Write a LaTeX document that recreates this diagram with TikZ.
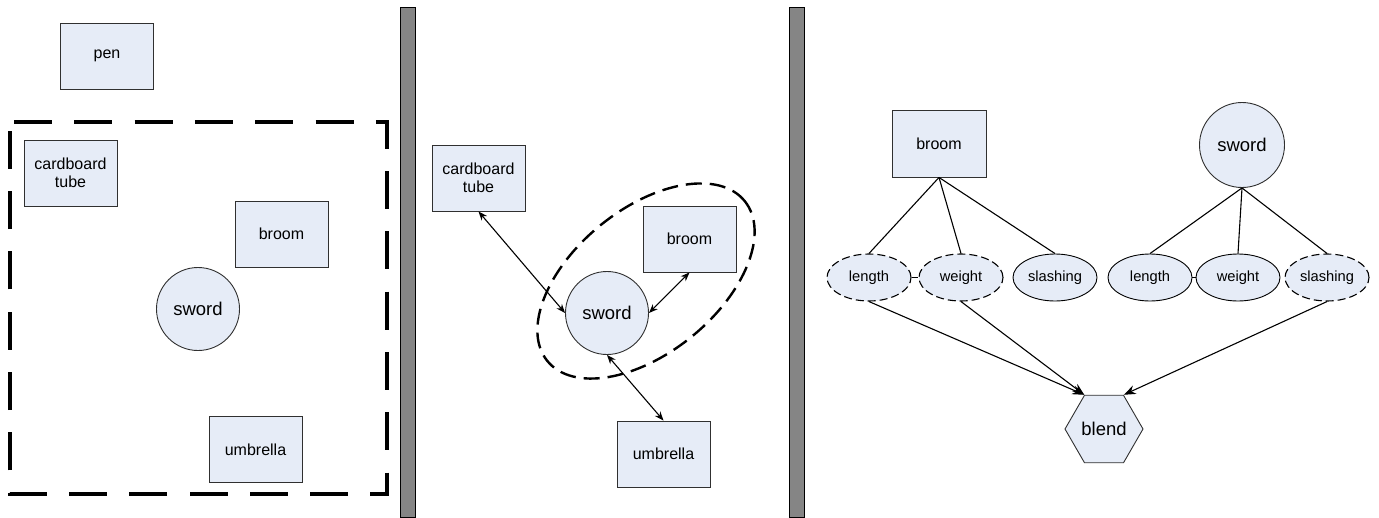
\documentclass[tikz,border=0pt]{standalone}
\usepackage{fontspec}
\setmainfont{Liberation Sans}
\usetikzlibrary{shapes.geometric,arrows.meta}
\definecolor{nodefill}{HTML}{E6ECF7}
\definecolor{nodeline}{HTML}{303030}
\definecolor{bargray}{HTML}{858585}
\tikzset{
  obj/.style={draw=nodeline, line width=0.9pt, fill=nodefill, minimum width=93pt, minimum height=66pt, inner sep=0pt, align=center, font=\fontsize{16}{18}\selectfont},
  circ/.style={circle, draw=nodeline, line width=0.9pt, fill=nodefill, minimum size=83pt, inner sep=0pt, font=\fontsize{18.5}{20}\selectfont},
  feat/.style={ellipse, draw=black, line width=0.9pt, fill=nodefill, minimum width=84pt, minimum height=47pt, inner sep=0pt, font=\fontsize{14.7}{16}\selectfont},
  featd/.style={feat, line width=1.1pt, dash pattern=on 8pt off 4pt},
  hexa/.style={regular polygon, regular polygon sides=6, draw=nodeline, line width=0.9pt, fill=nodefill, minimum size=78pt, inner sep=0pt, font=\fontsize{18.5}{20}\selectfont},
  conn/.style={draw=black, line width=1.1pt},
  dbl/.style={conn, {Stealth[length=9pt,width=7pt]}-{Stealth[length=9pt,width=7pt]}},
  toblend/.style={conn, -{Stealth[length=12pt,width=9pt]}},
  bar/.style={draw=black, line width=0.8pt, fill=bargray},
}
\begin{document}
\begin{tikzpicture}[x=1pt,y=-1pt]
\useasboundingbox (0,0) rectangle (1379,517);
% separators
\draw[bar] (400,7) rectangle (415,517);
\draw[bar] (789,7) rectangle (804,517);
% ---------------- left panel
\draw[line width=4pt, dash pattern=on 38pt off 22.3pt, dash phase=56.3pt] (10,122) -- (387,122) -- (387,494) -- (10,494) -- cycle;
\node[obj] (pen) at (107,56) {pen};
\node[obj] (ct1) at (70.5,173) {cardboard\\tube};
\node[obj] (br1) at (281.5,234) {broom};
\node[circ] (sw1) at (198,309) {sword};
\node[obj] (um1) at (255.5,449.5) {umbrella};
% ---------------- middle panel
\node[ellipse, draw=black, line width=2.4pt, dash pattern=on 16pt off 8pt, minimum width=254pt, minimum height=144pt, rotate=39] (grp) at (646,281) {};
\node[obj] (ct2) at (478.5,178) {cardboard\\tube};
\node[obj] (br2) at (689.5,239) {broom};
\node[circ] (sw2) at (607,313) {sword};
\node[obj] (um2) at (663.5,454) {umbrella};
\draw[dbl] (ct2.south) -- (sw2.west);
\draw[dbl] (br2.south) -- (sw2.east);
\draw[dbl] (um2.north) -- (sw2.south);
% ---------------- right panel
\node[obj, minimum width=94pt, minimum height=67pt] (br3) at (939,143.5) {broom};
\node[circ, minimum size=85pt] (sw3) at (1242,145) {sword};
\node[featd] (l1) at (869,277.5) {length};
\node[featd] (w1) at (961,277.5) {weight};
\node[feat] (s1) at (1055,277.5) {slashing};
\node[feat] (l2) at (1150,277.5) {length};
\node[feat] (w2) at (1238,277.5) {weight};
\node[featd] (s2) at (1327,277.5) {slashing};
\node[hexa] (bl) at (1104,429) {blend};
\draw[conn] (br3.south) -- (l1.north);
\draw[conn] (br3.south) -- (w1.north);
\draw[conn] (br3.south) -- (s1.north);
\draw[conn] (sw3.south) -- (l2.north);
\draw[conn] (sw3.south) -- (w2.north);
\draw[conn] (sw3.south) -- (s2.north);
\draw[conn] (l1.east) -- (w1.west);
\draw[conn] (l2.east) -- (w2.west);
\draw[toblend] (l1.south) -- (bl.120);
\draw[toblend] (w1.south) -- (bl.120);
\draw[toblend] (s2.south) -- (bl.60);
\end{tikzpicture}
\end{document}
